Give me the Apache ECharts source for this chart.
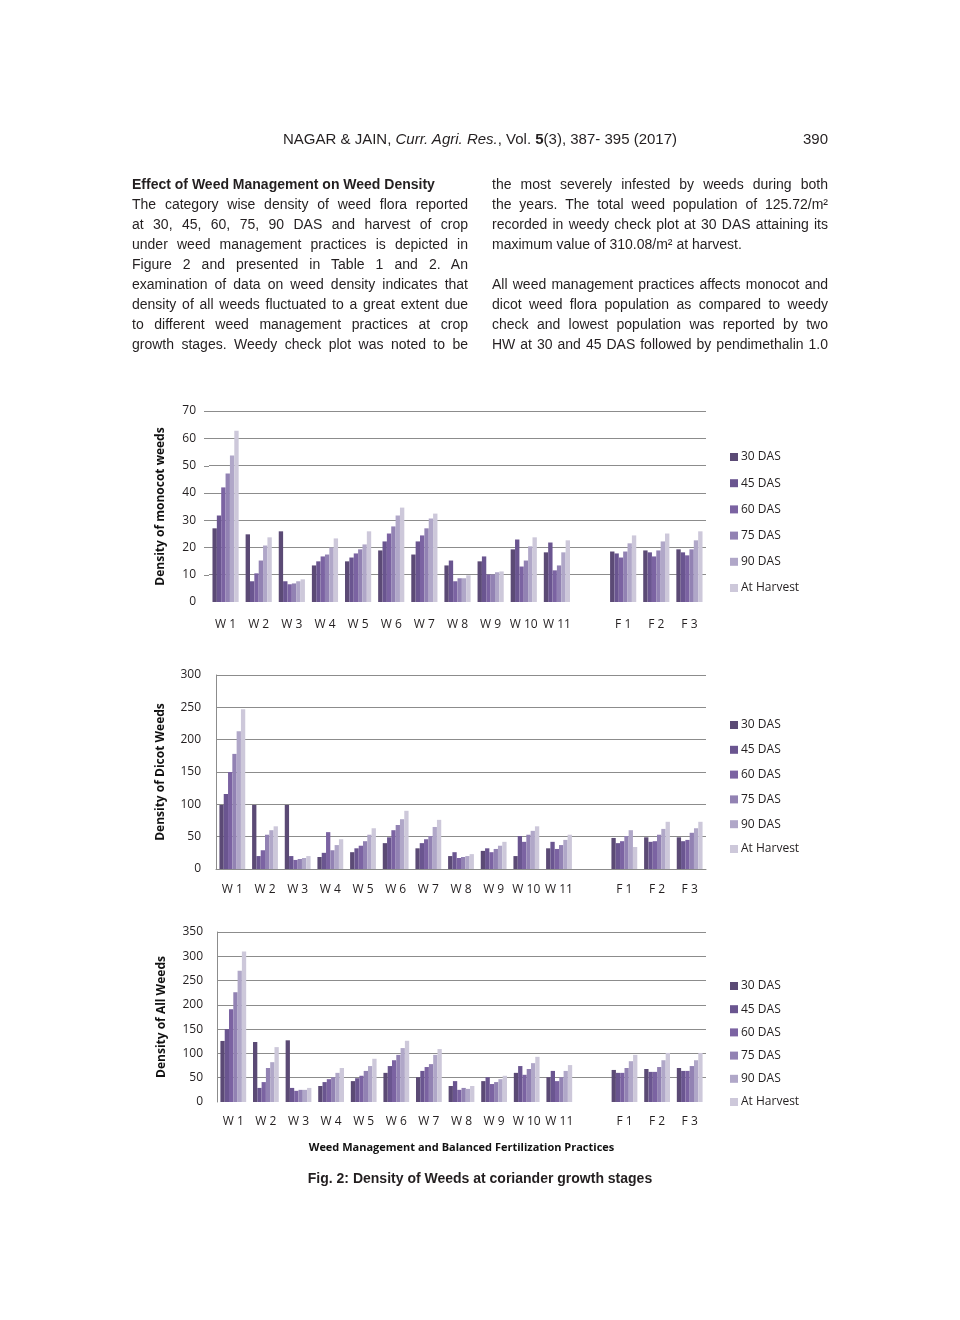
<!DOCTYPE html>
<html>
<head>
<meta charset="utf-8">
<script src="https://cdn.jsdelivr.net/npm/echarts@6/dist/echarts.min.js"></script>
<style>
  html, body { margin: 0; padding: 0; background: #fff; }
  #page { position: relative; width: 960px; height: 1320px; overflow: hidden; }
  #chart { position: absolute; left: 0; top: 0; width: 960px; height: 1320px; }
  .txt { position: absolute; font-family: "Liberation Sans", Arial, sans-serif; color: #231f20; }
  .col { position: absolute; top: 174px; width: 336px; font-size: 14px; line-height: 20px; }
  .col div { text-align: justify; text-align-last: justify; white-space: nowrap; height: 20px; }
  .col div.last { text-align-last: left; }
  .col div.head { font-weight: bold; text-align-last: left; }
</style>
</head>
<body>
<div id="page">
  <div id="chart"></div>

  <div class="txt" style="left:0;width:960px;top:130px;text-align:center;font-size:15px;">
    NAGAR &amp; JAIN, <i>Curr. Agri. Res.</i>, Vol. <b>5</b>(3), 387- 395 (2017)
  </div>
  <div class="txt" style="left:760px;width:68px;top:130px;text-align:right;font-size:15px;">390</div>

  <div class="txt col" style="left:132px;">
    <div class="head">Effect of Weed Management on Weed Density</div>
    <div>The category wise density of weed flora reported</div>
    <div>at 30, 45, 60, 75, 90 DAS and harvest of crop</div>
    <div>under weed management practices is depicted in</div>
    <div>Figure 2 and presented in Table 1 and 2. An</div>
    <div>examination of data on weed density indicates that</div>
    <div>density of all weeds fluctuated to a great extent due</div>
    <div>to different weed management practices at crop</div>
    <div>growth stages. Weedy check plot was noted to be</div>
  </div>

  <div class="txt col" style="left:492px;">
    <div>the most severely infested by weeds during both</div>
    <div>the years. The total weed population of 125.72/m²</div>
    <div>recorded in weedy check plot at 30 DAS attaining its</div>
    <div class="last">maximum value of 310.08/m² at harvest.</div>
    <div class="last"></div>
    <div>All weed management practices affects monocot and</div>
    <div>dicot weed flora population as compared to weedy</div>
    <div>check and lowest population was reported by two</div>
    <div>HW at 30 and 45 DAS followed by pendimethalin 1.0</div>
  </div>

  <div class="txt" style="left:0;width:960px;top:1170px;text-align:center;font-size:14px;font-weight:bold;">
    Fig. 2: Density of Weeds at coriander growth stages
  </div>
</div>

<script>
// categorias del eje X (hueco vacio entre W 11 y F 1)
const categories = ['W 1', 'W 2', 'W 3', 'W 4', 'W 5', 'W 6', 'W 7', 'W 8', 'W 9', 'W 10', 'W 11', '', 'F 1', 'F 2', 'F 3'];
const stages = ['30 DAS', '45 DAS', '60 DAS', '75 DAS', '90 DAS', 'At Harvest'];
const colors = ['#5b4a75', '#6a5590', '#7b63a2', '#9282b3', '#b0a7c8', '#cdc8da'];

// Monocot
const mono30 = [27.0, 24.8, 25.9, 13.4, 14.9, 18.9, 17.4, 13.4, 14.9, 19.3, 18.2, '-', 18.5, 18.9, 19.3];
const mono45 = [31.7, 7.6, 7.6, 14.9, 16.3, 22.2, 22.2, 15.2, 16.7, 22.9, 21.8, '-', 17.8, 18.2, 18.2];
const mono60 = [42.0, 10.5, 6.5, 16.7, 17.8, 25.1, 24.4, 7.6, 10.1, 13.0, 11.6, '-', 16.3, 16.7, 17.1];
const mono75 = [47.1, 15.2, 6.8, 17.4, 19.3, 27.7, 27.0, 8.7, 10.1, 15.2, 13.4, '-', 18.5, 18.9, 19.3];
const mono90 = [53.7, 20.7, 7.6, 20.0, 21.1, 31.7, 30.6, 8.7, 10.9, 20.4, 18.2, '-', 21.5, 22.2, 22.6];
const monoHarvest = [62.8, 23.7, 8.3, 23.3, 25.9, 34.6, 32.4, 9.8, 11.2, 23.7, 22.6, '-', 24.4, 25.1, 25.9];

// Dicot
const dicot30 = [99, 99, 99, 18.6, 26, 40, 32, 20, 28, 20, 32, '-', 48, 49, 49];
const dicot45 = [116, 20, 20, 25, 32, 49, 40, 26, 32, 51, 42, '-', 40, 42, 43];
const dicot60 = [150, 29, 14, 57, 36, 60, 46, 17, 26, 42, 31, '-', 43, 43, 45];
const dicot75 = [178, 53, 15.5, 29, 43, 68, 51, 18.6, 31, 53, 37, '-', 51, 53, 56];
const dicot90 = [213, 60, 17, 37, 53, 77, 65, 20, 36, 59, 45, '-', 60, 62, 63];
const dicotHarvest = [247, 66, 20, 46, 63, 90, 76, 23, 42, 66, 53, '-', 34, 73, 73];

// All weeds
const all30 = [125.7, 123.5, 127, 33, 43, 60, 51, 33, 43, 60, 51, '-', 66, 68, 70];
const all45 = [150, 29, 29, 41, 49, 74, 64, 43, 51, 74, 64, '-', 60, 62, 64];
const all60 = [191, 41, 23, 47, 54, 86, 72, 25, 37, 56, 43, '-', 60, 62, 64];
const all75 = [226, 70, 25, 51, 64, 97, 78, 29, 41, 68, 51, '-', 70, 72, 74];
const all90 = [270, 82, 25, 60, 74, 111, 97, 27, 47, 80, 64, '-', 84, 86, 86];
const allHarvest = [310.1, 113, 29, 70, 89, 126, 109, 33, 54, 93, 76, '-', 97, 101, 101];

const panels = [
    { name: 'Density of monocot weeds', max: 70, interval: 10, data: [mono30, mono45, mono60, mono75, mono90, monoHarvest] },
    { name: 'Density of Dicot Weeds', max: 300, interval: 50, data: [dicot30, dicot45, dicot60, dicot75, dicot90, dicotHarvest] },
    { name: 'Density of All Weeds', max: 350, interval: 50, data: [all30, all45, all60, all75, all90, allHarvest] }
];

const FONT = 'Open Sans';
const txtColor = '#231f20';

// geometria de cada panel
const layout = [
    { left: 209, top: 411, height: 191, yLine: false, xLine: false, nameGap: 42, labelMargin: 13, xMargin: 17, legendTop: 450, legendGap: 12.2 },
    { left: 216, top: 675, height: 194, yLine: true, xLine: true, nameGap: 49, labelMargin: 15, xMargin: 15, legendTop: 718, legendGap: 10.8 },
    { left: 217, top: 932, height: 170, yLine: true, xLine: false, nameGap: 49, labelMargin: 14, xMargin: 14, legendTop: 979, legendGap: 9.2 }
];

const grid = [], xAxis = [], yAxis = [], legend = [], series = [];

panels.forEach((p, i) => {
    const L = layout[i];
    grid.push({ left: L.left, top: L.top, width: 706 - L.left, height: L.height });
    xAxis.push({
        type: 'category',
        gridIndex: i,
        data: categories,
        axisLine: { show: L.xLine, lineStyle: { color: '#8c8c8c', width: 1 } },
        axisTick: { show: false },
        axisLabel: { interval: 0, margin: L.xMargin, fontFamily: FONT, fontSize: 12, color: txtColor },
        name: i === 2 ? 'Weed Management and Balanced Fertilization Practices' : '',
        nameLocation: 'middle',
        nameGap: 40,
        nameTextStyle: { fontFamily: FONT, fontSize: 11, fontWeight: 'bold', color: '#111' }
    });
    yAxis.push({
        type: 'value',
        gridIndex: i,
        min: 0,
        max: p.max,
        interval: p.interval,
        name: p.name,
        nameLocation: 'middle',
        nameGap: L.nameGap,
        nameRotate: 90,
        nameTextStyle: { fontFamily: FONT, fontSize: 12, fontWeight: 'bold', color: '#111' },
        axisLine: { show: L.yLine, lineStyle: { color: '#8c8c8c', width: 1 } },
        axisTick: { show: false },
        axisLabel: { margin: L.labelMargin, fontFamily: FONT, fontSize: 12, color: txtColor },
        splitLine: { show: true, showMinLine: false, lineStyle: { color: '#8c8c8c', width: 1 } }
    });
    legend.push({
        orient: 'vertical',
        left: 730,
        top: L.legendTop,
        padding: 0,
        itemWidth: 8,
        itemHeight: 8,
        itemGap: L.legendGap,
        icon: 'rect',
        data: stages.map(s => 'p' + i + '|' + s),
        formatter: n => n.split('|')[1],
        textStyle: { fontFamily: FONT, fontSize: 12, color: txtColor, lineHeight: 14, padding: [0, 0, 0, -2] },
        selectedMode: false
    });
    p.data.forEach((vals, k) => {
        series.push({
            type: 'bar',
            name: 'p' + i + '|' + stages[k],
            xAxisIndex: i,
            yAxisIndex: i,
            data: vals,
            barGap: '0%',
            barCategoryGap: '21%',
            itemStyle: { color: colors[k] },
            animation: false
        });
    });
});

const myChart = echarts.init(document.getElementById('chart'));
myChart.setOption({ animation: false, grid, xAxis, yAxis, legend, series });

// las lineas de la rejilla del primer panel arrancan un poco antes que el eje
const g0 = myChart.getModel().getComponent('grid', 0).coordinateSystem.getRect();
const extra = [];
for (let v = panels[0].interval; v <= panels[0].max; v += panels[0].interval) {
    const y = myChart.convertToPixel({ yAxisIndex: 0 }, v);
    extra.push({
        type: 'line', silent: true,
        shape: { x1: 204, y1: Math.round(y) + 0.5, x2: g0.x, y2: Math.round(y) + 0.5 },
        style: { stroke: '#8c8c8c', lineWidth: 1 }
    });
}
myChart.setOption({ graphic: extra });
</script>
</body>
</html>
